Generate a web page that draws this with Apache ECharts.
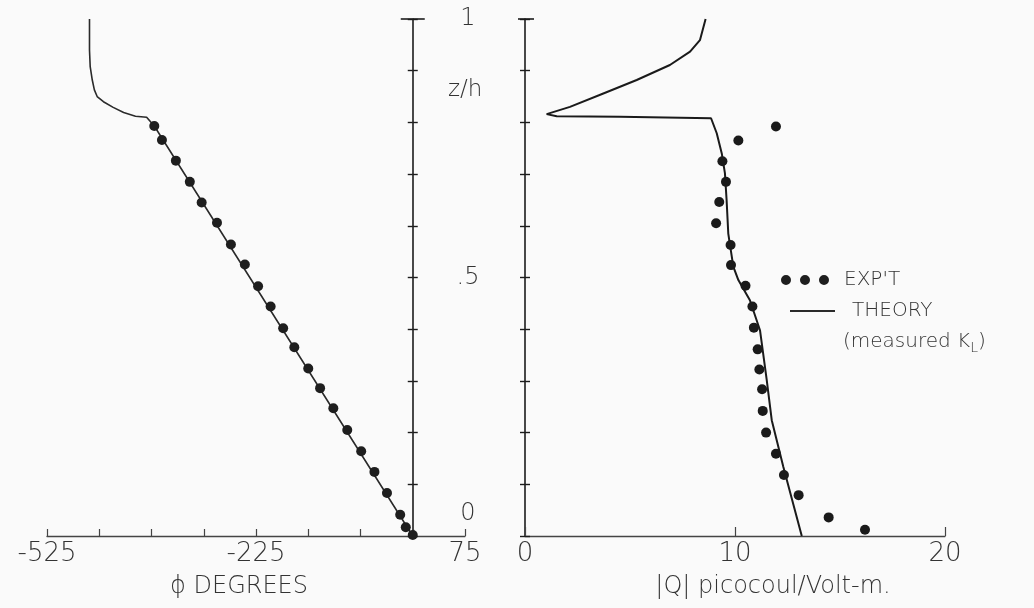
<!DOCTYPE html>
<html>
<head>
<meta charset="utf-8">
<script src="https://cdn.jsdelivr.net/npm/echarts@6/dist/echarts.min.js"></script>
<style>html,body{margin:0;padding:0;background:#fafafa}#c{width:1034px;height:608px}</style>
</head>
<body>
<div id="c"></div>
<script>
// ---------- data ----------
// Left panel: phase phi (degrees) vs z/h
const phiExp  = [-371,-360,-340,-320,-303,-281,-261,-241,-222,-204,-186,-170,-150,-133,-114,-94,-74,-55,-37,-18,-10,0];
const zExpL   = [0.793,0.766,0.726,0.685,0.645,0.606,0.564,0.525,0.483,0.444,0.402,0.365,0.324,0.286,0.247,0.205,0.164,0.124,0.083,0.041,0.017,0.002];
const phiTheory = [0,-371,-382,-398,-415,-430,-444,-453,-457,-460,-463,-464,-464];
const zTheoryL  = [0,0.793,0.810,0.812,0.819,0.829,0.840,0.850,0.863,0.882,0.908,0.940,1.0];

// Right panel: |Q| (picocoul/Volt-m) vs z/h
const qExp  = [11.95,10.16,9.40,9.57,9.25,9.10,9.79,9.81,10.50,10.83,10.90,11.08,11.16,11.29,11.32,11.48,11.95,12.33,13.03,14.46,16.19];
const zExpR = [0.792,0.765,0.725,0.685,0.646,0.605,0.563,0.524,0.484,0.444,0.403,0.361,0.322,0.284,0.242,0.200,0.159,0.118,0.079,0.036,0.012];
const qTheory  = [8.60,8.33,7.86,6.90,5.32,3.73,2.14,1.03,1.51,4.52,8.86,9.13,9.37,9.52,9.60,9.68,9.92,10.16,10.71,11.19,11.51,11.75,12.30,13.18];
const zTheoryR = [1.0,0.959,0.937,0.911,0.882,0.856,0.830,0.816,0.812,0.811,0.808,0.779,0.740,0.702,0.650,0.585,0.521,0.495,0.456,0.398,0.302,0.224,0.134,0.0];

// axes / ticks
const phiMin = -525, phiMax = 75, phiStep = 75;
const phiLabels = [-525, -225, 75];
const qMin = 0, qMax = 20, qStep = 10;
const qLabels = [0, 10, 20];
const zMin = 0, zMax = 1, zStep = 0.1;
const zLabels = [0, 0.5, 1];

// ---------- chart ----------
const zip = (a, b) => a.map((v, i) => [v, b[i]]);
const FONT = 'DejaVu Sans';
const FW = 200;
const TXT = '#333333';
const INK = '#1c1c1c';

const gL = {left: 47, width: 418, top: 19, height: 517};
const gR = {left: 525, width: 420, top: 19, height: 517};
// offset that places the left-panel z axis at phi = 0
const offL = -((0 - phiMin) / (phiMax - phiMin)) * gL.width;

function zAxis(grid, offset, opts) {
  return Object.assign({
    type: 'value', gridIndex: grid, min: zMin, max: zMax, interval: zStep,
    position: 'left', offset: offset,
    axisLine: {show: false, onZero: false},
    axisTick: {show: false},
    axisLabel: {show: false},
    splitLine: {show: false}
  }, opts);
}

const yAxes = [
  // left panel
  zAxis(0, offL, {axisLine: {show: true, onZero: false, lineStyle: {color: INK, width: 1.6}},
                  axisTick: {show: true, inside: false, length: 5, lineStyle: {color: INK, width: 1.4}}}),
  zAxis(0, offL, {axisTick: {show: true, inside: true, length: 5, lineStyle: {color: INK, width: 1.4}}}),
  zAxis(0, offL, {axisTick: {show: true, inside: false, length: 12, customValues: [zMax], lineStyle: {color: INK, width: 1.6}}}),
  zAxis(0, offL, {axisTick: {show: true, inside: true, length: 12, customValues: [zMax], lineStyle: {color: INK, width: 1.6}}}),
  zAxis(0, 0, {position: 'right',
    axisLabel: {show: true, customValues: zLabels, margin: 3, align: 'center',
      color: TXT, fontFamily: FONT, fontWeight: FW, fontSize: 24,
      formatter: v => v === 0 ? '{lo|0}' : (v === 1 ? '1' : '.5'),
      rich: {lo: {fontFamily: FONT, fontWeight: FW, fontSize: 24, color: TXT, padding: [0, 0, 44, 0]}}}}),
  // right panel
  zAxis(1, 0, {axisLine: {show: true, onZero: false, lineStyle: {color: INK, width: 1.6}},
               axisTick: {show: true, inside: false, length: 5, lineStyle: {color: INK, width: 1.4}}}),
  zAxis(1, 0, {axisTick: {show: true, inside: true, length: 5, lineStyle: {color: INK, width: 1.4}}}),
  zAxis(1, 0, {axisTick: {show: true, inside: false, length: 7, customValues: [zMax], lineStyle: {color: INK, width: 1.6}}}),
  zAxis(1, 0, {axisTick: {show: true, inside: true, length: 9, customValues: [zMax], lineStyle: {color: INK, width: 1.6}}})
];

const xAxes = [
  {type: 'value', gridIndex: 0, min: phiMin, max: phiMax, interval: phiStep,
   axisLine: {onZero: false, lineStyle: {color: '#444', width: 1.3}},
   axisTick: {inside: true, length: 7, lineStyle: {color: '#444', width: 1.2}},
   axisLabel: {customValues: phiLabels, margin: 5, color: TXT, fontFamily: FONT, fontWeight: FW, fontSize: 26},
   splitLine: {show: false},
   name: 'ϕ DEGREES', nameLocation: 'middle', nameGap: 39,
   nameTextStyle: {color: TXT, fontFamily: FONT, fontWeight: FW, fontSize: 24, padding: [0, 34, 0, 0]}},
  {type: 'value', gridIndex: 1, min: qMin, max: qMax, interval: qStep,
   axisLine: {onZero: false, lineStyle: {color: '#444', width: 1.3}},
   axisTick: {inside: true, length: 9, lineStyle: {color: '#444', width: 1.2}},
   axisLabel: {customValues: qLabels, margin: 5, color: TXT, fontFamily: FONT, fontWeight: FW, fontSize: 26},
   splitLine: {show: false},
   name: '|Q| picocoul/Volt-m.', nameLocation: 'middle', nameGap: 39,
   nameTextStyle: {color: TXT, fontFamily: FONT, fontWeight: FW, fontSize: 24, padding: [0, 0, 0, 76]}}
];

const option = {
  backgroundColor: '#fafafa',
  animation: false,
  grid: [gL, gR],
  xAxis: xAxes,
  yAxis: yAxes,
  legend: [
    {left: 776, top: 265, orient: 'vertical', selectedMode: false,
     itemWidth: 48, itemHeight: 10,
     data: [{name: "EXP'T", icon: 'path://M5,0A5,5,0,1,1,5,10A5,5,0,1,1,5,0ZM24,0A5,5,0,1,1,24,10A5,5,0,1,1,24,0ZM43,0A5,5,0,1,1,43,10A5,5,0,1,1,43,0Z'}],
     itemStyle: {opacity: 1},
     textStyle: {color: TXT, fontFamily: FONT, fontWeight: FW, fontSize: 20, padding: [0, 0, 0, 10]}},
    {left: 785, top: 296, orient: 'vertical', selectedMode: false,
     itemWidth: 45, itemHeight: 2,
     data: [{name: 'THEORY', icon: 'rect'}],
     textStyle: {color: TXT, fontFamily: FONT, fontWeight: FW, fontSize: 20, padding: [0, 0, 0, 12]}}
  ],
  graphic: [
    {type: 'text', left: 448, top: 79,
     style: {text: 'z/h', fill: TXT, font: '200 23px "DejaVu Sans"'}},
    {type: 'text', left: 843, top: 332,
     style: {text: '(measured K{s|L})', fill: TXT, font: '200 20px "DejaVu Sans"',
       rich: {s: {fontFamily: FONT, fontWeight: FW, fontSize: 14, fill: TXT, padding: [12, 0, 0, 0]}}}}
  ],
  series: [
    {name: 'THEORY', type: 'line', xAxisIndex: 0, yAxisIndex: 0, data: zip(phiTheory, zTheoryL),
     showSymbol: false, lineStyle: {color: '#2a2a2a', width: 1.6}, itemStyle: {color: '#2a2a2a'}, z: 3},
    {name: "EXP'T", type: 'scatter', xAxisIndex: 0, yAxisIndex: 0, data: zip(phiExp, zExpL),
     symbolSize: 10, itemStyle: {color: '#1e1e1e', opacity: 1}, z: 4},
    {name: 'THEORY', type: 'line', xAxisIndex: 1, yAxisIndex: 5, data: zip(qTheory, zTheoryR),
     showSymbol: false, lineStyle: {color: '#1a1a1a', width: 2}, itemStyle: {color: '#1a1a1a'}, z: 3},
    {name: "EXP'T", type: 'scatter', xAxisIndex: 1, yAxisIndex: 5, data: zip(qExp, zExpR),
     symbolSize: 10, itemStyle: {color: '#1a1a1a', opacity: 1}, z: 4}
  ]
};

const chart = echarts.init(document.getElementById('c'), null, {renderer: 'canvas'});
chart.setOption(option);
</script>
</body>
</html>
